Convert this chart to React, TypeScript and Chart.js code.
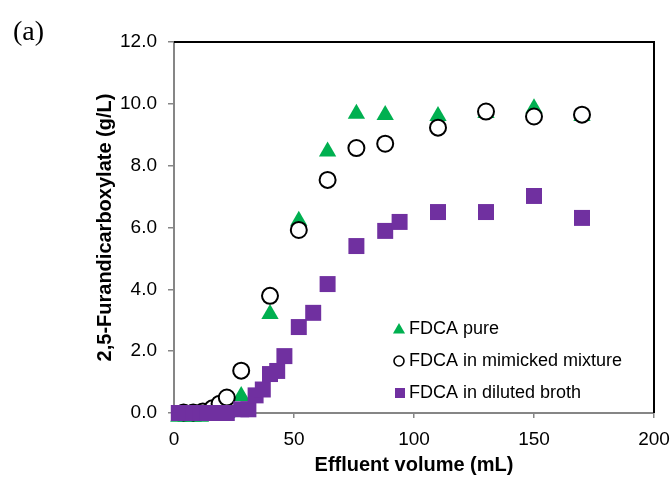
import React, { useEffect, useRef } from 'react';
import { Chart, registerables } from 'chart.js';

Chart.register(...registerables);

// ---- data ----
const xTickStep = 50;
const yTickStep = 2;
const xMin = 0;
const xMax = 200;
const yMin = 0;
const yMax = 12;

const seriesLabels = ['FDCA pure', 'FDCA in mimicked mixture', 'FDCA in diluted broth'];

const pureX = [2, 5, 8, 11, 14, 17, 20, 22, 28, 40, 52, 64, 76, 88, 110, 130, 150, 170];
const pureY = [-0.12, -0.12, -0.12, -0.12, -0.1, 0, 0, 0, 0.55, 3.2, 6.22, 8.46, 9.68, 9.64, 9.61, 9.7, 9.86, 9.61];

const mixX = [4, 8, 12, 16, 19, 22, 28, 40, 52, 64, 76, 88, 110, 130, 150, 170];
const mixY = [0.02, 0.02, 0.05, 0.15, 0.3, 0.5, 1.37, 3.79, 5.92, 7.54, 8.57, 8.71, 9.23, 9.75, 9.59, 9.65];

const brothX = [2, 5, 8, 11, 14, 17, 20, 22, 28, 31, 34, 37, 40, 43, 46, 52, 58, 64, 76, 88, 94, 110, 130, 150, 170];
const brothY = [0, 0, 0, 0, 0, 0, 0, 0, 0.12, 0.12, 0.57, 0.76, 1.26, 1.36, 1.84, 2.78, 3.24, 4.17, 5.4, 5.89, 6.18, 6.5, 6.5, 7.02, 6.31];

const GREEN = '#00B050';
const PURPLE = '#7030A0';
const AXIS_GREY = '#868686';
const SANS = "'Liberation Sans', Arial, sans-serif";
const SERIF = "'Liberation Serif', 'Times New Roman', serif";

const pts = (xs: number[], ys: number[]) => xs.map((x, i) => ({ x, y: ys[i] }));

export default function App() {
  const ref = useRef<HTMLCanvasElement>(null);

  useEffect(() => {
    const canvas = ref.current;
    if (!canvas) return;

    const decor = {
      id: 'decor',
      beforeDatasetsDraw(chart: any) {
        const { ctx, chartArea: a } = chart;
        ctx.save();
        ctx.strokeStyle = '#000';
        ctx.lineWidth = 2;
        ctx.beginPath();
        ctx.moveTo(a.left, a.top);
        ctx.lineTo(a.right, a.top);
        ctx.lineTo(a.right, a.bottom);
        ctx.stroke();
        ctx.restore();
      },
      afterDraw(chart: any) {
        const { ctx, chartArea: a } = chart;
        ctx.save();
        // panel label
        ctx.fillStyle = '#000';
        ctx.font = `28px ${SERIF}`;
        ctx.textBaseline = 'alphabetic';
        ctx.textAlign = 'left';
        ctx.fillText('(a)', 13, 40);

        // legend
        const mx = a.left + 225;
        const tx = a.left + 235;
        const rows = [a.top + 287, a.top + 319, a.top + 351];
        const styles = ['triangle', 'circle', 'rect'];
        ctx.font = `18px ${SANS}`;
        ctx.textBaseline = 'middle';
        rows.forEach((ry, i) => {
          const st = styles[i];
          if (st === 'triangle') {
            const r = 7;
            const cy = ry + 1;
            ctx.fillStyle = GREEN;
            ctx.beginPath();
            ctx.moveTo(mx, cy - r);
            ctx.lineTo(mx + r * Math.sin((2 * Math.PI) / 3), cy + r / 2);
            ctx.lineTo(mx - r * Math.sin((2 * Math.PI) / 3), cy + r / 2);
            ctx.closePath();
            ctx.fill();
          } else if (st === 'circle') {
            ctx.fillStyle = '#fff';
            ctx.strokeStyle = '#000';
            ctx.lineWidth = 1.6;
            ctx.beginPath();
            ctx.arc(mx, ry, 5, 0, Math.PI * 2);
            ctx.fill();
            ctx.stroke();
          } else {
            ctx.fillStyle = PURPLE;
            ctx.fillRect(mx - 4, ry - 5, 10, 10);
          }
          ctx.fillStyle = '#000';
          ctx.fillText(chart.data.datasets[i].label, tx, ry);
        });
        ctx.restore();
      },
    };

    const chart = new Chart(canvas, {
      type: 'scatter',
      data: {
        datasets: [
          {
            label: seriesLabels[0],
            data: pts(pureX, pureY),
            pointStyle: 'triangle',
            pointRadius: 10,
            backgroundColor: GREEN,
            borderColor: GREEN,
            borderWidth: 0,
            order: 3,
            clip: false,
          },
          {
            label: seriesLabels[1],
            data: pts(mixX, mixY),
            pointStyle: 'circle',
            pointRadius: 8,
            backgroundColor: '#fff',
            borderColor: '#000',
            borderWidth: 2,
            order: 2,
            clip: false,
          },
          {
            label: seriesLabels[2],
            data: pts(brothX, brothY),
            pointStyle: 'rect',
            pointRadius: 11.3,
            backgroundColor: PURPLE,
            borderColor: PURPLE,
            borderWidth: 0,
            order: 1,
            clip: false,
          },
        ],
      },
      options: {
        animation: false,
        responsive: false,
        events: [],
        layout: { padding: { left: 0, right: 18, top: 42, bottom: 0 } },
        plugins: {
          legend: { display: false },
          tooltip: { enabled: false },
        },
        scales: {
          x: {
            type: 'linear',
            min: xMin,
            max: xMax,
            afterFit: (s: any) => {
              s.height = 65;
              s.paddingRight = 0;
              s.paddingLeft = 0;
            },
            ticks: {
              stepSize: xTickStep,
              color: '#000',
              font: { family: SANS, size: 19 },
              padding: 10,
            },
            grid: {
              display: true,
              drawOnChartArea: false,
              drawTicks: true,
              tickLength: 5,
              color: AXIS_GREY,
              lineWidth: 1.5,
            },
            border: { display: true, color: AXIS_GREY, width: 2 },
            title: {
              display: true,
              text: 'Effluent volume (mL)',
              color: '#000',
              font: { family: SANS, size: 20, weight: 'bold' },
              padding: { top: 0, bottom: 1 },
            },
          },
          y: {
            type: 'linear',
            min: yMin,
            max: yMax,
            afterFit: (s: any) => {
              s.width = 174;
              s.paddingTop = 0;
              s.paddingBottom = 0;
            },
            ticks: {
              stepSize: yTickStep,
              color: '#000',
              font: { family: SANS, size: 19 },
              padding: 11,
              callback: (v: any) => Number(v).toFixed(1),
            },
            grid: {
              display: true,
              drawOnChartArea: false,
              drawTicks: true,
              tickLength: 6,
              color: AXIS_GREY,
              lineWidth: 1.5,
            },
            border: { display: true, color: AXIS_GREY, width: 2 },
            title: {
              display: true,
              text: '2,5-Furandicarboxylate (g/L)',
              color: '#000',
              font: { family: SANS, size: 20, weight: 'bold' },
              padding: { top: 93, bottom: 0 },
            },
          },
        },
      },
      plugins: [decor],
    } as any);

    return () => chart.destroy();
  }, []);

  return (
    <div style={{ position: 'fixed', left: 0, top: 0, width: 672, height: 478, background: '#fff' }}>
      <canvas ref={ref} width={672} height={478} style={{ width: 672, height: 478, display: 'block' }} />
    </div>
  );
}
